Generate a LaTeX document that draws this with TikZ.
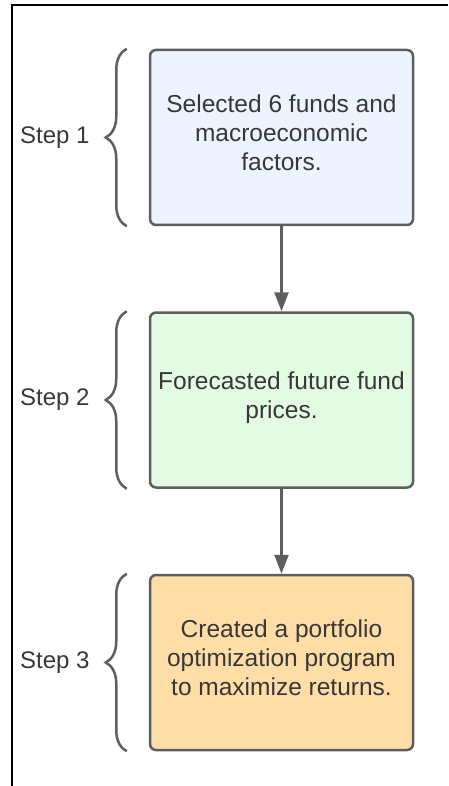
\documentclass[tikz,border=0pt]{standalone}
\usepackage{fontspec}
\setmainfont{Liberation Sans}
\usetikzlibrary{positioning,arrows.meta,decorations.pathreplacing}

\definecolor{edgegray}{HTML}{5E5E5E}
\definecolor{inkgray}{HTML}{383838}
\definecolor{selectblue}{HTML}{EDF4FF}
\definecolor{forecastgreen}{HTML}{E3FAE3}
\definecolor{optimorange}{HTML}{FFDDA6}

\begin{document}
\begin{tikzpicture}[x=1pt,y=-1pt,
    stage/.style={draw=edgegray, line width=2.5pt, rounded corners=6pt,
        minimum width=263pt, minimum height=175pt, text depth=9pt,
        align=center, text=inkgray, font=\fontsize{24.5}{29}\selectfont},
    bracket/.style={draw=edgegray, line width=2.5pt, decorate,
        decoration={brace, amplitude=21pt}},
    steplabel/.style={text=inkgray, inner sep=0pt, font=\fontsize{24}{29}\selectfont},
    flow/.style={draw=edgegray, line width=2.5pt,
        -{Triangle[width=14pt,length=19pt]}}]
    \useasboundingbox (0,0) rectangle (448,786);
    \draw[line width=2pt] (12,786) -- (12,5) -- (448,5);

    % the three stages
    \node[stage, fill=selectblue] (b1) at (281.5,137.5)
        {Selected 6 funds and\\ macroeconomic\\ factors.};
    \node[stage, fill=forecastgreen, below=85pt of b1] (b2)
        {Forecasted future fund\\ prices.};
    \node[stage, fill=optimorange, below=85pt of b2] (b3)
        {Created a portfolio\\ optimization program\\ to maximize returns.};

    \draw[flow] (b1) -- (b2);
    \draw[flow] (b2) -- (b3);

    % braces and step names on the left
    \foreach \i in {1,2,3} {
        \draw[bracket] ([xshift=-22pt]b\i.south west) -- ([xshift=-22pt]b\i.north west);
        \node[steplabel, left=59pt of b\i.west] (s\i) {Step \i};
    }
\end{tikzpicture}
\end{document}
